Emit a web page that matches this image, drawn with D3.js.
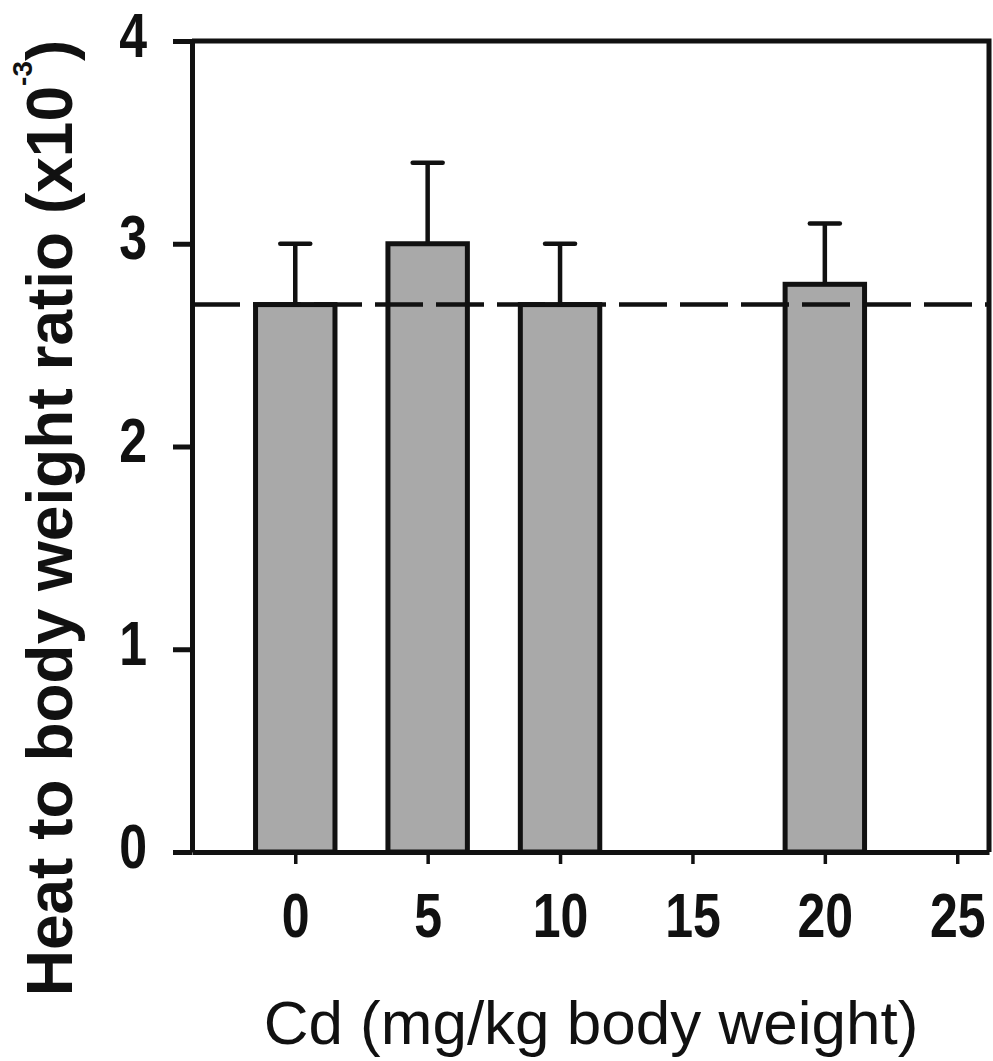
<!DOCTYPE html>
<html>
<head>
<meta charset="utf-8">
<script src="https://cdn.jsdelivr.net/npm/d3@7"></script>
<style>
  body { margin: 0; background: #fff; }
  svg { display: block; }
  .tick text { font-family: "Liberation Sans", Arial, sans-serif; font-weight: bold; fill: #111; }
</style>
</head>
<body>
<div id="chart"></div>
<script>
// chart data
var doses = [0, 5, 10, 20];
var ratios = [2.7, 3.0, 2.7, 2.8];
var errors = [0.3, 0.4, 0.3, 0.3];
var controlLevel = 2.7;
var yTicks = [0, 1, 2, 3, 4];
var xTicks = [0, 5, 10, 15, 20, 25];
var xTitle = "Cd (mg/kg body weight)";

var svgWidth = 993;
var svgHeight = 1061;

var margin = { top: 41, right: 4, bottom: 209, left: 192 };
var chartWidth = svgWidth - margin.left - margin.right;
var chartHeight = svgHeight - margin.top - margin.bottom;

var svg = d3.select("#chart")
  .append("svg")
  .attr("width", svgWidth)
  .attr("height", svgHeight);

var chartGroup = svg.append("g").attr("transform", `translate(${margin.left}, ${margin.top})`);

var xScale = d3.scaleLinear().domain([-3.9, 26.2]).range([0, chartWidth]);
var yScale = d3.scaleLinear().domain([0, 4]).range([chartHeight, 0]);

var barHalf = 1.5;
var capHalf = 15;
var bars = doses.map((d, i) => ({ dose: d, value: ratios[i], err: errors[i] }));

// bars
chartGroup.selectAll("rect.bar").data(bars).enter().append("rect")
  .attr("class", "bar")
  .attr("x", d => xScale(d.dose - barHalf))
  .attr("y", d => yScale(d.value))
  .attr("width", d => xScale(d.dose + barHalf) - xScale(d.dose - barHalf))
  .attr("height", d => yScale(0) - yScale(d.value))
  .attr("fill", "#a9a9a9")
  .attr("stroke", "#111")
  .attr("stroke-width", 5);

// control dashed line
chartGroup.append("line")
  .attr("x1", 0).attr("x2", chartWidth)
  .attr("y1", yScale(controlLevel)).attr("y2", yScale(controlLevel))
  .attr("stroke", "#111")
  .attr("stroke-width", 4.5)
  .attr("stroke-dasharray", "48,13");

// error bars
var errG = chartGroup.selectAll("g.err").data(bars).enter().append("g").attr("class", "err");
errG.append("line")
  .attr("x1", d => xScale(d.dose)).attr("x2", d => xScale(d.dose))
  .attr("y1", d => yScale(d.value)).attr("y2", d => yScale(d.value + d.err))
  .attr("stroke", "#111").attr("stroke-width", 4.5);
errG.append("line")
  .attr("x1", d => xScale(d.dose) - capHalf).attr("x2", d => xScale(d.dose) + capHalf)
  .attr("y1", d => yScale(d.value + d.err)).attr("y2", d => yScale(d.value + d.err))
  .attr("stroke", "#111").attr("stroke-width", 4.5)
  .attr("stroke-linecap", "round");

// frame top and right
chartGroup.append("path")
  .attr("d", `M0,${yScale(4)}H${chartWidth}V${yScale(0)}`)
  .attr("fill", "none")
  .attr("stroke", "#111")
  .attr("stroke-width", 5);

// axes
var leftAxis = d3.axisLeft(yScale).tickValues(yTicks).tickFormat(d3.format("d"))
  .tickSizeInner(19).tickSizeOuter(0);
var bottomAxis = d3.axisBottom(xScale).tickValues(xTicks).tickFormat(d3.format("d"))
  .tickSizeInner(12).tickSizeOuter(0);

var yAxisG = chartGroup.append("g").call(leftAxis);
var xAxisG = chartGroup.append("g").attr("transform", `translate(0, ${chartHeight})`).call(bottomAxis);

[yAxisG, xAxisG].forEach(function(g) {
  g.select(".domain").attr("stroke", "#111").attr("stroke-width", 5);
  g.selectAll(".tick line").attr("stroke", "#111").attr("stroke-width", 5);
});
xAxisG.selectAll(".tick line").attr("stroke-width", 3.5);

yAxisG.selectAll(".tick text")
  .attr("x", -45).attr("y", 12).attr("dy", null)
  .attr("transform", "scale(1,1.25)")
  .style("font-size", "50px");

xAxisG.selectAll(".tick text")
  .attr("y", 68).attr("dy", null)
  .attr("transform", "scale(1,1.25)")
  .style("font-size", "50px");

// axis titles
svg.append("text")
  .attr("x", 591)
  .attr("y", 1044)
  .attr("text-anchor", "middle")
  .style("font-family", "\"Liberation Sans\", Arial, sans-serif")
  .style("font-size", "62px")
  .attr("fill", "#111")
  .text(xTitle);

var yTitle = svg.append("text")
  .attr("transform", "translate(72, 518) rotate(-90)")
  .attr("text-anchor", "middle")
  .style("font-family", "\"Liberation Sans\", Arial, sans-serif")
  .style("font-size", "64px")
  .style("font-weight", "bold")
  .attr("fill", "#111");
yTitle.append("tspan").text("Heat to body weight ratio (x10");
yTitle.append("tspan").attr("dy", -40).style("font-size", "28px").text("-3");
yTitle.append("tspan").attr("dy", 40).text(")");
</script>
</body>
</html>
